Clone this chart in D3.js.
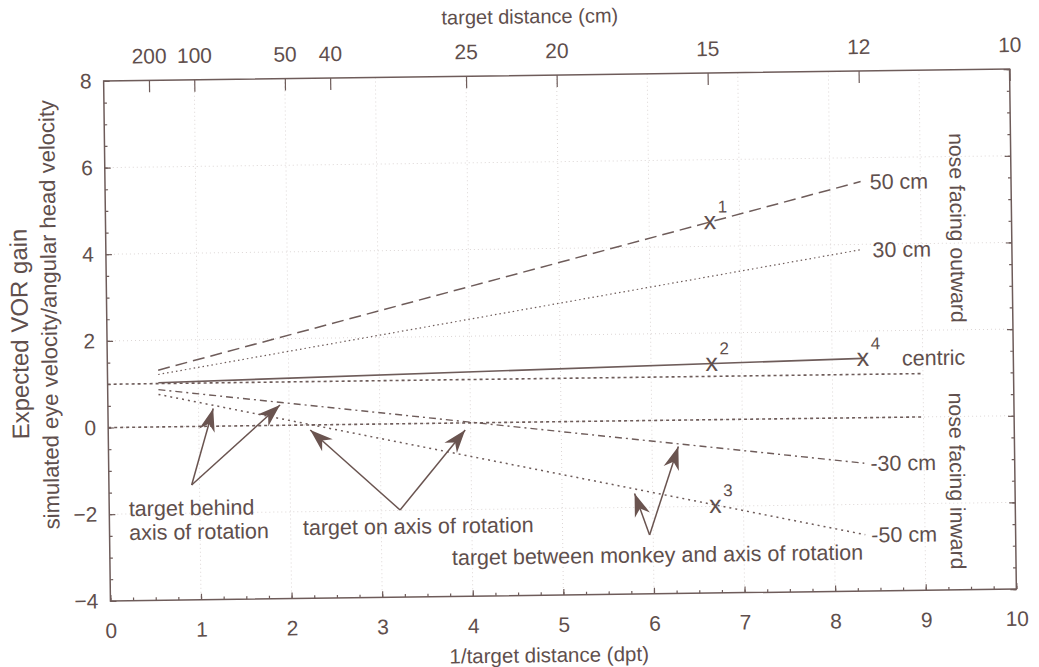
<!DOCTYPE html>
<meta charset='utf-8'>
<title>Expected VOR gain vs target distance</title>
<style>
html, body {
  margin: 0;
  padding: 0;
  background: #ffffff;
}
text {
  font-family: 'Liberation Sans', Arial, sans-serif;
  fill: #5f4f4d;
}
</style>
<script src='https://d3js.org/d3.v7.min.js'></script>
<body>
<svg id='chart' width='1039' height='667'></svg>
<script>
// Data
var lineNames = ['50 cm', '30 cm', 'centric', '-30 cm', '-50 cm'];
var dptStart = 0.56;           // where the model lines begin (dpt)
var dptEnd = 8.34;             // where they end (12 cm)
var gainStart = [1.31, 1.21, 1.02, 0.86, 0.75];
var gainEnd = [5.45, 3.88, 1.37, -1.05, -2.70];

// Horizontal reference lines (target behind / on axis of rotation)
var refGains = [1, 0];
var refDpt = [0, 9];

// Numbered x markers
var markLabels = ['1', '2', '3', '4'];
var markDpt = [6.67, 6.67, 6.69, 8.34];
var markGain = [4.57, 1.30, -1.98, 1.37];

// Axis ticks
var bottomTicks = [0, 1, 2, 3, 4, 5, 6, 7, 8, 9, 10];
var leftTicks = [-4, -2, 0, 2, 4, 6, 8];
var topTicksCm = [200, 100, 50, 40, 25, 20, 15, 12, 10];

// Design values
var ink = '#6e5c5a';
var textInk = '#5f4f4d';
var arrowInk = '#6a5450';
var gridInk = '#dcd6d5';
var styles = {
  '50 cm':   {dash: '12,6', w: 1.5},
  '30 cm':   {dash: '1.5,3', w: 1.2},
  'centric': {dash: null, w: 1.6},
  '-30 cm':  {dash: '7,4,2,4', w: 1.4},
  '-50 cm':  {dash: '2,4', w: 1.5}
};
var labelOffset = {'50 cm': 9, '30 cm': 11, 'centric': 39, '-30 cm': 6, '-50 cm': 6};
var noteSize = 21.5;
var tickSize = 21;

// frame edges (window.top is taken, hence the prefix)
var pLeft = 107, pRight = 1013, pTop = 75, pBottom = 595;

var svg = d3.select('#chart');
// the scanned figure is slightly tilted
var g = svg.append('g').attr('transform', 'rotate(-0.75, 560, 335)');

var x = d3.scaleLinear().domain([0, 10]).range([pLeft, pRight]);
var y = d3.scaleLinear().domain([-4, 8]).range([pBottom, pTop]);

// faint dotted grid
g.append('g').selectAll('line')
  .data(d3.range(1, 10))
  .enter().append('line')
  .attr('x1', d => x(d)).attr('x2', d => x(d))
  .attr('y1', pTop).attr('y2', pBottom)
  .attr('stroke', gridInk).attr('stroke-dasharray', '1,3');
g.append('g').selectAll('line')
  .data([-2, 0, 2, 4, 6])
  .enter().append('line')
  .attr('x1', pLeft).attr('x2', pRight)
  .attr('y1', d => y(d)).attr('y2', d => y(d))
  .attr('stroke', gridInk).attr('stroke-dasharray', '1,3');

// axes
function styleAxis(sel) {
  sel.select('.domain').remove();
  sel.selectAll('line').attr('stroke', ink).attr('stroke-width', 1.2);
  sel.selectAll('text').attr('font-size', tickSize).attr('fill', textInk)
    .attr('font-family', "'Liberation Sans', Arial, sans-serif");
}

g.append('g').attr('transform', 'translate(0,' + pBottom + ')')
  .call(d3.axisBottom(x).tickValues(d3.range(0, 10.01, 0.25)).tickFormat('').tickSize(-3))
  .call(styleAxis);
g.append('g').attr('transform', 'translate(0,' + pBottom + ')')
  .call(d3.axisBottom(x).tickValues(bottomTicks).tickFormat(d3.format('d')).tickSize(-6).tickPadding(22))
  .call(styleAxis);

g.append('g').attr('transform', 'translate(' + pLeft + ',0)')
  .call(d3.axisLeft(y).tickValues(d3.range(-4, 8.01, 0.5)).tickFormat('').tickSize(-3))
  .call(styleAxis);
g.append('g').attr('transform', 'translate(' + pLeft + ',0)')
  .call(d3.axisLeft(y).tickValues(leftTicks).tickFormat(d3.format('d')).tickSize(-6).tickPadding(12))
  .call(styleAxis);

g.append('g').attr('transform', 'translate(' + pRight + ',0)')
  .call(d3.axisRight(y).tickValues(d3.range(-4, 8.01, 0.5)).tickFormat('').tickSize(-3))
  .call(styleAxis);
g.append('g').attr('transform', 'translate(' + pRight + ',0)')
  .call(d3.axisRight(y).tickValues(leftTicks).tickFormat('').tickSize(-6))
  .call(styleAxis);

g.append('g').attr('transform', 'translate(0,' + pTop + ')')
  .call(d3.axisTop(x).tickValues(topTicksCm.map(c => 100 / c))
    .tickFormat(d => Math.round(100 / d)).tickSize(-12).tickPadding(17))
  .call(styleAxis);

// frame
g.append('rect')
  .attr('x', pLeft).attr('y', pTop)
  .attr('width', pRight - pLeft).attr('height', pBottom - pTop)
  .attr('fill', 'none').attr('stroke', ink).attr('stroke-width', 1.5);

// axis titles
g.append('text').text('target distance (cm)')
  .attr('x', (pLeft + pRight) / 2 - 26).attr('y', pTop - 52)
  .attr('text-anchor', 'middle').attr('font-size', 20);
g.append('text').text('1/target distance (dpt)')
  .attr('x', (pLeft + pRight) / 2 - 15).attr('y', pBottom + 67)
  .attr('text-anchor', 'middle').attr('font-size', 20.5);
g.append('text').text('Expected VOR gain')
  .attr('transform', 'translate(' + (pLeft - 79) + ',327)rotate(-90)')
  .attr('text-anchor', 'middle').attr('font-size', 24);
g.append('text').text('simulated eye velocity/angular head velocity')
  .attr('transform', 'translate(' + (pLeft - 50) + ',308)rotate(-90)')
  .attr('text-anchor', 'middle').attr('font-size', 22);

// reference lines
g.append('g').selectAll('line')
  .data(refGains)
  .enter().append('line')
  .attr('x1', x(refDpt[0])).attr('x2', x(refDpt[1]))
  .attr('y1', d => y(d)).attr('y2', d => y(d))
  .attr('stroke', ink).attr('stroke-width', 1.6).attr('stroke-dasharray', '3,3');

// model lines
var series = lineNames.map((n, i) => ({name: n, y0: gainStart[i], y1: gainEnd[i]}));
g.append('g').selectAll('line')
  .data(series)
  .enter().append('line')
  .attr('x1', x(dptStart)).attr('x2', x(dptEnd))
  .attr('y1', d => y(d.y0)).attr('y2', d => y(d.y1))
  .attr('stroke', ink)
  .attr('stroke-width', d => styles[d.name].w)
  .attr('stroke-dasharray', d => styles[d.name].dash);

g.append('g').selectAll('text')
  .data(series)
  .enter().append('text')
  .text(d => d.name)
  .attr('x', d => x(dptEnd) + labelOffset[d.name])
  .attr('y', d => y(d.y1))
  .attr('dy', '0.36em')
  .attr('font-size', noteSize);

// numbered markers
var marks = markLabels.map((l, i) => ({label: l, x: markDpt[i], y: markGain[i]}));
var mg = g.append('g').selectAll('g')
  .data(marks)
  .enter().append('g')
  .attr('transform', d => 'translate(' + x(d.x) + ',' + y(d.y) + ')');
mg.append('text').text('x')
  .attr('text-anchor', 'middle').attr('dy', '0.3em').attr('font-size', 25);
mg.append('text').text(d => d.label)
  .attr('x', 8).attr('y', -9).attr('font-size', 17);

// side notes
g.append('text').text('nose facing outward')
  .attr('transform', 'translate(' + (x(9.40) - 7) + ',' + y(4.35) + ')rotate(90)')
  .attr('text-anchor', 'middle').attr('font-size', 21.2);
g.append('text').text('nose facing inward')
  .attr('transform', 'translate(' + (x(9.36) - 7) + ',' + y(-1.49) + ')rotate(90)')
  .attr('text-anchor', 'middle').attr('font-size', 21.2);

// annotations with arrows
var notes = [
  {t: 'target behind', x: 0.216, y: -2.05},
  {t: 'axis of rotation', x: 0.216, y: -2.60},
  {t: 'target on axis of rotation', x: 2.135, y: -2.54},
  {t: 'target between monkey and axis of rotation', x: 3.775, y: -3.275}
];
g.append('g').selectAll('text')
  .data(notes)
  .enter().append('text')
  .text(d => d.t)
  .attr('x', d => x(d.x)).attr('y', d => y(d.y))
  .attr('font-size', noteSize);

var arrows = [
  {from: [0.913, -1.35], to: [1.162, 0.41]},
  {from: [0.913, -1.35], to: [1.90, 0.47]},
  {from: [3.21, -1.99], to: [2.23, -0.116]},
  {from: [3.21, -1.99], to: [3.94, -0.164]},
  {from: [5.96, -2.64], to: [5.80, -1.68]},
  {from: [5.96, -2.64], to: [6.29, -0.61]}
];
svg.append('defs').append('marker')
  .attr('id', 'head')
  .attr('viewBox', '-24 -10 26 20')
  .attr('refX', 0).attr('refY', 0)
  .attr('markerWidth', 26).attr('markerHeight', 20)
  .attr('markerUnits', 'userSpaceOnUse')
  .attr('orient', 'auto')
  .append('path')
  .attr('d', 'M0,0 L-23,-8 L-16,0 L-23,8 Z')
  .attr('fill', arrowInk);

g.append('g').selectAll('line')
  .data(arrows)
  .enter().append('line')
  .attr('x1', d => x(d.from[0])).attr('y1', d => y(d.from[1]))
  .attr('x2', d => x(d.to[0])).attr('y2', d => y(d.to[1]))
  .attr('stroke', arrowInk).attr('stroke-width', 1.5)
  .attr('marker-end', 'url(#head)');
</script>
</body>
